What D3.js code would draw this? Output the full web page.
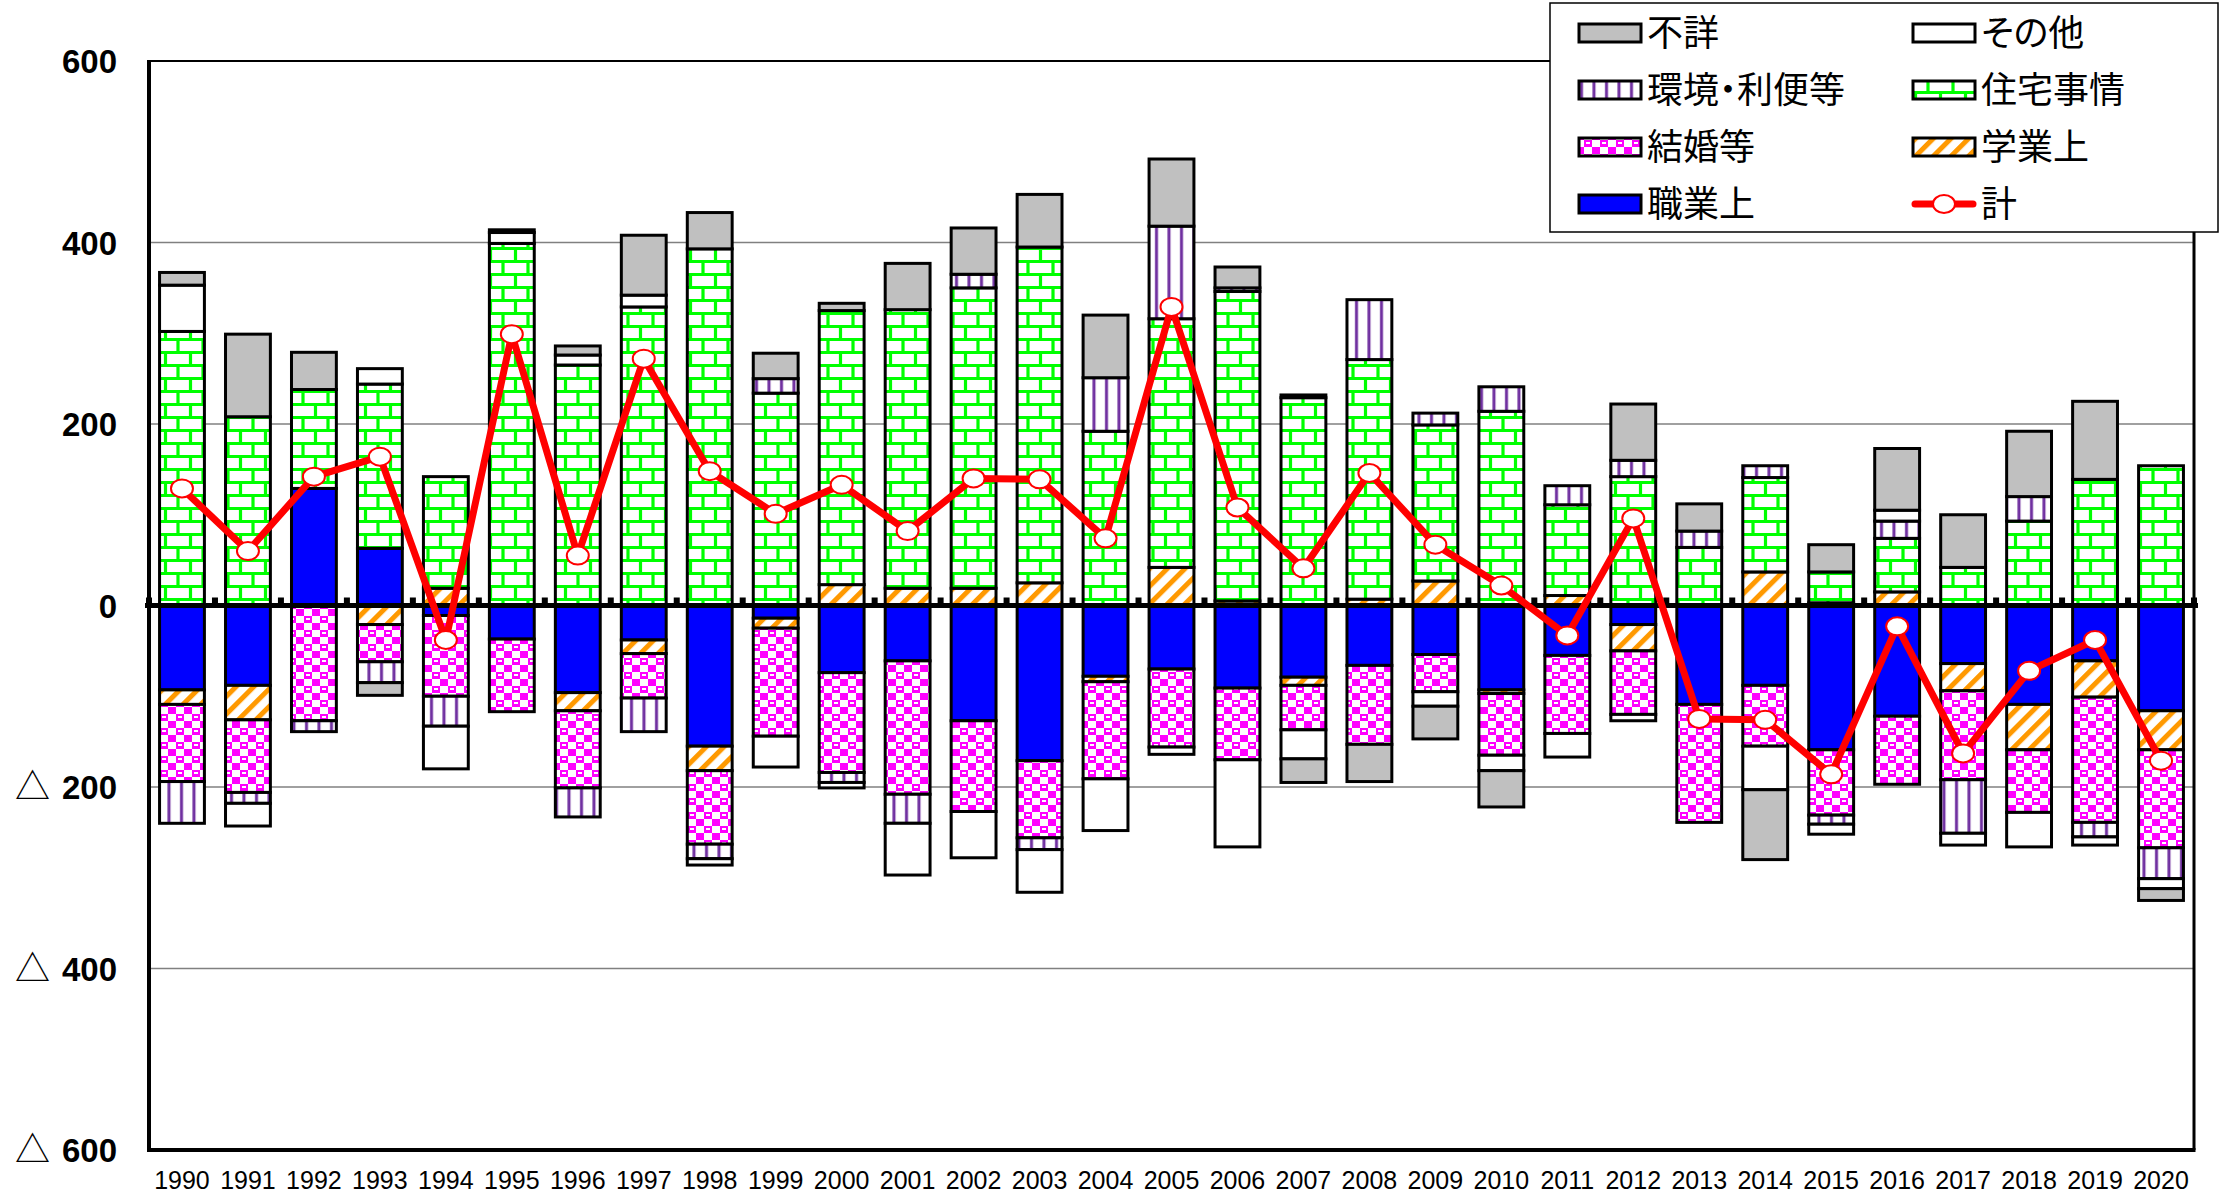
<!DOCTYPE html>
<html>
<head>
<meta charset="utf-8">
<script src="https://cdn.jsdelivr.net/npm/d3@7"></script>
<style>
  body { margin: 0; background: #fff; }
</style>
</head>
<body>
<svg id="chart" width="2224" height="1195"></svg>
<script>
// ---- data ----
var years = ["1990","1991","1992","1993","1994","1995","1996","1997","1998","1999",
             "2000","2001","2002","2003","2004","2005","2006","2007","2008","2009",
             "2010","2011","2012","2013","2014","2015","2016","2017","2018","2019","2020"];

// 職業上
var shokugyo = [-93,-88,129,63,-11,-37,-96,-38,-155,-14,
                -74,-61,-127,-171,-78,-70,-91,-79,-66,-54,
                -93,-55,-21,-109,-88,-159,-122,-64,-109,-61,-116];
// 学業上
var gakugyo = [-16,-38,0,-21,19,0,-20,-15,-27,-11,
               23,19,19,25,-6,42,5,-9,7,27,
               -4,11,-29,0,37,3,15,-30,-50,-40,-43];
// 結婚等
var kekkon = [-85,-80,-127,-41,-89,-80,-85,-49,-81,-119,
              -110,-147,-100,-85,-107,-86,-79,-49,-87,-41,
              -68,-86,-70,-130,-67,-72,-75,-98,-69,-138,-108];
// 住宅事情
var jutaku = [302,208,109,181,123,399,265,329,393,234,
              302,307,331,370,192,274,341,229,264,172,
              214,100,142,64,104,34,59,42,93,139,154];
// 環境・利便等
var kankyo = [-46,-12,-12,-23,-33,0,-32,-37,-16,16,
              -11,-32,15,-13,59,102,4,3,66,13,
              27,21,18,18,13,-10,19,-59,27,-16,-34];
// その他
var sonota = [51,-25,0,17,-47,12,11,13,-7,-34,
              -6,-57,-51,-47,-57,-8,-96,-32,0,-16,
              -17,-26,-7,0,-48,-11,12,-13,-38,-9,-11];
// 不詳
var fusho = [14,91,41,-14,0,3,10,66,40,28,
             8,51,51,58,69,74,23,-26,-41,-36,
             -40,0,62,30,-77,30,68,58,72,86,-13];
// 計
var total = [129,60,142,164,-38,299,55,272,148,101,
             133,82,140,139,74,329,108,41,146,67,
             22,-33,96,-125,-126,-186,-23,-163,-72,-38,-171];

var yTickValues = [-600,-400,-200,0,200,400,600];
var yTickLabels = ["△ 600","△ 400","△ 200","0","200","400","600"];

var series = [
  {key: "shokugyo", name: "職業上", values: shokugyo, fill: "#0000ff"},
  {key: "gakugyo",  name: "学業上", values: gakugyo,  fill: "url(#pat-gakugyo)"},
  {key: "kekkon",   name: "結婚等", values: kekkon,   fill: "url(#pat-kekkon)"},
  {key: "jutaku",   name: "住宅事情", values: jutaku, fill: "url(#pat-jutaku)"},
  {key: "kankyo",   name: "環境・利便等", values: kankyo, fill: "url(#pat-kankyo)"},
  {key: "sonota",   name: "その他", values: sonota,   fill: "#ffffff"},
  {key: "fusho",    name: "不詳", values: fusho,      fill: "#c0c0c0"}
];

// legend order (two columns)
var legendLeft = ["fusho","kankyo","kekkon","shokugyo"];
var legendRight = ["sonota","jutaku","gakugyo","total"];

// ---- layout ----
var plot = {left: 149, right: 2194, top: 61, bottom: 1150};
var svg = d3.select("#chart");

var table = years.map(function(y, i) {
  var row = {year: y};
  series.forEach(function(s) { row[s.key] = s.values[i]; });
  return row;
});

var x = d3.scaleBand()
  .domain(years)
  .range([plot.left, plot.right])
  .paddingInner(0.32)
  .paddingOuter(0.16);

var y = d3.scaleLinear()
  .domain([-600, 600])
  .range([plot.bottom, plot.top]);

// ---- patterns ----
var defs = svg.append("defs");

var pj = defs.append("pattern").attr("id", "pat-jutaku")
  .attr("patternUnits", "userSpaceOnUse").attr("width", 25).attr("height", 26);
pj.append("rect").attr("width", 25).attr("height", 26).attr("fill", "#fff");
pj.append("path")
  .attr("d", "M0,1.5H25M0,14.5H25M3,0V13M15.5,13V26")
  .attr("stroke", "#00ff00").attr("stroke-width", 3.2).attr("fill", "none");

var pk = defs.append("pattern").attr("id", "pat-kankyo")
  .attr("patternUnits", "userSpaceOnUse").attr("width", 12.5).attr("height", 10);
pk.append("rect").attr("width", 12.5).attr("height", 10).attr("fill", "#fff");
pk.append("rect").attr("x", 5).attr("width", 3).attr("height", 10).attr("fill", "#7030a0");

var pg = defs.append("pattern").attr("id", "pat-gakugyo")
  .attr("patternUnits", "userSpaceOnUse").attr("width", 12.5).attr("height", 12.5)
  .attr("patternTransform", "rotate(45)");
pg.append("rect").attr("width", 12.5).attr("height", 12.5).attr("fill", "#fff");
pg.append("rect").attr("width", 5).attr("height", 12.5).attr("fill", "#ff9900");

var pm = defs.append("pattern").attr("id", "pat-kekkon")
  .attr("patternUnits", "userSpaceOnUse").attr("width", 16).attr("height", 14);
pm.append("rect").attr("width", 16).attr("height", 14).attr("fill", "#ff00ff");
pm.append("rect").attr("x", 8).attr("y", 0).attr("width", 8).attr("height", 7).attr("fill", "#fff");
pm.append("rect").attr("x", 0).attr("y", 7).attr("width", 8).attr("height", 7).attr("fill", "#fff");
pm.append("rect").attr("x", 2).attr("y", 2).attr("width", 4).attr("height", 2).attr("fill", "#fff");
pm.append("rect").attr("x", 10).attr("y", 9).attr("width", 4).attr("height", 2).attr("fill", "#ff00ff");

// ---- grid ----
svg.append("g").selectAll("line")
  .data(yTickValues.filter(function(v) { return Math.abs(v) !== 600 && v !== 0; }))
  .enter().append("line")
  .attr("x1", plot.left).attr("x2", plot.right)
  .attr("y1", function(d) { return y(d); }).attr("y2", function(d) { return y(d); })
  .attr("stroke", "#808080").attr("stroke-width", 1.5);

// ---- bars ----
var stack = d3.stack()
  .keys(series.map(function(s) { return s.key; }))
  .offset(d3.stackOffsetDiverging);
var layers = stack(table);

var fillOf = {};
series.forEach(function(s) { fillOf[s.key] = s.fill; });

svg.append("g").selectAll("g")
  .data(layers)
  .enter().append("g")
  .attr("fill", function(d) { return fillOf[d.key]; })
  .selectAll("rect")
  .data(function(d) { return d.filter(function(e) { return e[1] - e[0] !== 0; }); })
  .enter().append("rect")
  .attr("x", function(d) { return x(d.data.year); })
  .attr("width", x.bandwidth())
  .attr("y", function(d) { return y(Math.max(d[0], d[1])); })
  .attr("height", function(d) { return Math.abs(y(d[0]) - y(d[1])); })
  .attr("stroke", "#000").attr("stroke-width", 3);

// ---- zero axis with small ticks ----
var zeroY = y(0);
svg.append("line")
  .attr("x1", plot.left - 4).attr("x2", plot.right + 4)
  .attr("y1", zeroY).attr("y2", zeroY)
  .attr("stroke", "#000").attr("stroke-width", 5);
svg.append("g").selectAll("rect")
  .data(years.concat(["end"]))
  .enter().append("rect")
  .attr("x", function(d, i) { return plot.left + i * x.step() - 3; })
  .attr("y", zeroY - 8).attr("width", 6).attr("height", 8)
  .attr("fill", "#000");

// ---- plot border ----
svg.append("line").attr("x1", plot.left).attr("x2", plot.right)
  .attr("y1", plot.top).attr("y2", plot.top).attr("stroke", "#000").attr("stroke-width", 2);
svg.append("line").attr("x1", plot.right).attr("x2", plot.right)
  .attr("y1", plot.top).attr("y2", plot.bottom).attr("stroke", "#000").attr("stroke-width", 3);
svg.append("line").attr("x1", plot.left - 2).attr("x2", plot.right + 1.5)
  .attr("y1", plot.bottom).attr("y2", plot.bottom).attr("stroke", "#000").attr("stroke-width", 4);
svg.append("line").attr("x1", plot.left).attr("x2", plot.left)
  .attr("y1", plot.top - 1).attr("y2", plot.bottom).attr("stroke", "#000").attr("stroke-width", 4);

// ---- total line ----
var line = d3.line()
  .x(function(d, i) { return x(years[i]) + x.bandwidth() / 2; })
  .y(function(d) { return y(d); });
svg.append("path").datum(total)
  .attr("d", line)
  .attr("fill", "none").attr("stroke", "#ff0000").attr("stroke-width", 7)
  .attr("stroke-linejoin", "round");
svg.append("g").selectAll("ellipse")
  .data(total)
  .enter().append("ellipse")
  .attr("cx", function(d, i) { return x(years[i]) + x.bandwidth() / 2; })
  .attr("cy", function(d) { return y(d); })
  .attr("rx", 11).attr("ry", 9)
  .attr("fill", "#fff").attr("stroke", "#ff0000").attr("stroke-width", 2);

// ---- y axis labels ----
var yl = svg.append("g").selectAll("g")
  .data(yTickValues)
  .enter().append("g");
yl.append("text")
  .attr("x", 117)
  .attr("y", function(d) { return y(d) + 12; })
  .attr("text-anchor", "end")
  .style("font-family", "'Liberation Sans', Arial, sans-serif")
  .style("font-weight", "bold")
  .style("font-size", "33px")
  .text(function(d, i) { var p = yTickLabels[i].split(" "); return p[p.length - 1]; });
yl.filter(function(d, i) { return yTickLabels[i].indexOf(" ") >= 0; })
  .append("text")
  .attr("x", 15)
  .attr("y", function(d) { return y(d) + 12; })
  .style("font-family", "'Noto Sans CJK JP', sans-serif")
  .style("font-size", "35px")
  .text(function(d, i) { return yTickLabels[yTickValues.indexOf(d)].split(" ")[0]; });

// ---- x axis labels ----
svg.append("g").selectAll("text")
  .data(years)
  .enter().append("text")
  .attr("x", function(d) { return x(d) + x.bandwidth() / 2; })
  .attr("y", 1189)
  .attr("text-anchor", "middle")
  .style("font-family", "'Liberation Sans', Arial, sans-serif")
  .style("font-size", "25px")
  .text(function(d) { return d; });

// ---- legend ----
var lg = svg.append("g");
lg.append("rect")
  .attr("x", 1550).attr("y", 3).attr("width", 668).attr("height", 229)
  .attr("fill", "#fff").attr("stroke", "#000").attr("stroke-width", 1.5);

var rowY = [33, 90, 147, 204];
var nameOf = {total: "計"};
series.forEach(function(s) { nameOf[s.key] = s.name; });

function legendItem(key, sx, tx, cy) {
  if (key === "total") {
    lg.append("line").attr("x1", sx + 2).attr("x2", sx + 60).attr("y1", cy).attr("y2", cy)
      .attr("stroke", "#ff0000").attr("stroke-width", 7).attr("stroke-linecap", "round");
    lg.append("ellipse").attr("cx", sx + 31).attr("cy", cy).attr("rx", 11).attr("ry", 9)
      .attr("fill", "#fff").attr("stroke", "#ff0000").attr("stroke-width", 2);
  } else {
    lg.append("rect").attr("x", sx).attr("y", cy - 9).attr("width", 62).attr("height", 18)
      .attr("fill", fillOf[key]).attr("stroke", "#000").attr("stroke-width", 3);
  }
  lg.append("text").attr("x", tx).attr("y", cy + 13)
    .style("font-family", "'Noto Sans CJK JP', sans-serif")
    .style("font-size", "36px")
    .style("font-feature-settings", "'palt'")
    .text(nameOf[key]);
}
legendLeft.forEach(function(k, i) { legendItem(k, 1579, 1647, rowY[i]); });
legendRight.forEach(function(k, i) { legendItem(k, 1913, 1981, rowY[i]); });
</script>
</body>
</html>
